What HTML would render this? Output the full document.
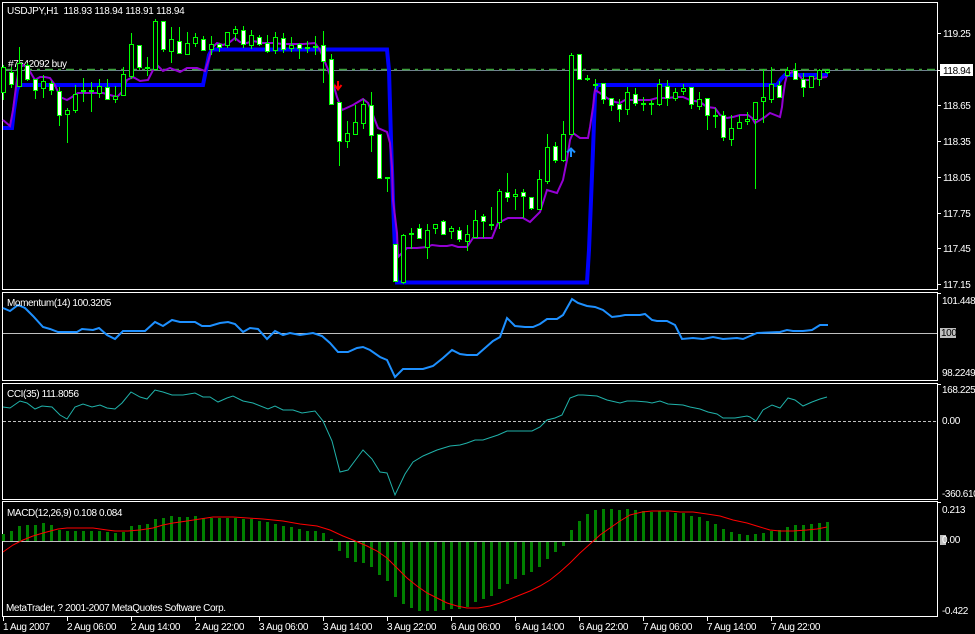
<!DOCTYPE html>
<html><head><meta charset="utf-8"><style>
html,body{margin:0;padding:0;background:#000;}
svg{display:block}
text{font-family:"Liberation Sans",sans-serif;font-size:10px;fill:#fff;letter-spacing:-0.4px}
</style></head><body>
<svg width="975" height="634" viewBox="0 0 975 634" xmlns="http://www.w3.org/2000/svg">
<rect x="0" y="0" width="975" height="634" fill="#000"/>

<!-- panel frames -->
<g fill="none" stroke="#fff" stroke-width="1" shape-rendering="crispEdges">
<rect x="2.5" y="2.5" width="935" height="287"/>
<rect x="2.5" y="292.5" width="935" height="88"/>
<rect x="2.5" y="383.5" width="935" height="116"/>
<rect x="2.5" y="501.5" width="935" height="115"/>
<path d="M938 33.5h3M938 105.5h3M938 141.5h3M938 177.5h3M938 213.5h3M938 248.5h3M938 284.5h3M938 70.5h3M938 293.5h3M938 384.5h3M938 502.5h3"/>
<path d="M3.5 617v4M67.5 617v4M131.5 617v4M195.5 617v4M259.5 617v4M323.5 617v4M387.5 617v4M451.5 617v4M515.5 617v4M579.5 617v4M643.5 617v4M707.5 617v4M771.5 617v4"/>
</g>

<text x="7" y="14" style="letter-spacing:-0.25px">USDJPY,H1&#160; 118.93 118.94 118.91 118.94</text>
<text x="8" y="67">#7542092 buy</text>

<line x1="3" y1="70.5" x2="937" y2="70.5" stroke="#708090" stroke-width="1" shape-rendering="crispEdges"/>
<line x1="3" y1="69.5" x2="937" y2="69.5" stroke="#3ca03c" stroke-width="1.5" stroke-dasharray="8,5,3,5"/>

<polyline fill="none" stroke="#0000ff" stroke-width="4" stroke-linejoin="miter" points="3,128 12,128 14,110 17,90 19,85 203,85 205,75 209,55 212,49.5 387,49.5 389,70 391,140 393,200 395,250 397,282.5 587,282.5 589,250 591,200 593,150 595,95 597,85 777,85 781,79 785,75 828,75"/>

<polyline fill="none" stroke="#9400d3" stroke-width="2" points="3,120 10,126 13,110 16,87 19,67 23,65 28,68 32,75 35,80 40,77 45,77 50,78 55,85 60,97 67,100 72,97 78,93 88,93 97,93 103,93 110,95 117,97 122,92 127,80 133,77 140,81 148,80 153,70 157,65 160,68 163,71 170,68 175,70 180,72 187,68 197,68 205,71 208,62 212,48 217,43 223,45 230,42 235,38 240,42 247,43 253,41 263,43 273,43 283,44 293,44 303,44 315,43 320,50 327,67 333,83 337,97 342,110 353,105 363,99 368,103 373,115 378,128 387,132 390,143 392,167 393,200 397,233 398,257 402,253 407,248 417,248 427,247 432,245 440,246 447,246 452,245 458,247 467,247 473,238 480,238 492,238 498,223 508,218 523,218 530,222 540,212 547,190 557,193 563,180 567,160 570,140 573,133 580,138 588,138 590,127 593,107 595,90 600,93 607,98 615,102 620,103 625,100 633,100 650,100 657,98 667,98 677,97 683,97 690,100 700,102 707,107 715,108 720,115 727,118 733,117 740,115 748,115 752,118 755,123 760,120 765,117 770,113 775,115 780,117 782,107 783,97 785,83 787,75 792,72 797,73 803,80 810,80 817,78 827,77"/>

<path fill="none" stroke="#00ff00" stroke-width="1" shape-rendering="crispEdges" d="M3.5 65V100M11.5 67V88M19.5 47V86M27.5 63V81M35.5 79V99M43.5 75V98M51.5 81V95M59.5 87V126M67.5 108V143M75.5 85V113M83.5 78V102M91.5 82V112M99.5 79V98M107.5 79V100M115.5 86V103M123.5 67V95M131.5 33V79M139.5 45V70M147.5 57V76M155.5 19V70M163.5 21V52M171.5 27V63M179.5 27V53M187.5 32V54M195.5 33V47M203.5 36V50M211.5 36V55M219.5 43V52M227.5 32V48M235.5 26V41M243.5 26V48M251.5 30V49M259.5 35V46M267.5 35V53M275.5 32V54M283.5 33V53M291.5 37V52M299.5 43V59M307.5 41V53M315.5 36V55M323.5 31V83M331.5 54V104M339.5 102V166M347.5 121V148M355.5 105V134M363.5 99V129M371.5 92V152M379.5 134V178M387.5 177V192M395.5 244V281M403.5 234V284M411.5 228V249M419.5 224V238M427.5 224V259M435.5 224V234M443.5 220V234M451.5 226V239M459.5 227V242M467.5 225V251M475.5 210V238M483.5 214V238M491.5 207V230M499.5 189V229M507.5 173V202M515.5 189V210M523.5 189V218M531.5 197V210M539.5 170V209M547.5 134V184M555.5 142V163M563.5 121V162M571.5 53V134M579.5 54V79M587.5 75V81M595.5 79V89M603.5 83V104M611.5 98V111M619.5 99V122M627.5 87V115M635.5 88V106M643.5 97V111M651.5 100V115M659.5 79V106M667.5 80V106M675.5 88V101M683.5 84V95M691.5 87V109M699.5 92V110M707.5 98V130M715.5 108V128M723.5 111V141M731.5 115V146M739.5 115V128M747.5 112V125M755.5 102V189M763.5 69V123M771.5 67V103M779.5 81V97M787.5 67V77M795.5 63V79M803.5 73V97M811.5 76V88M819.5 69V86M827.5 69V74"/>

<path fill="none" stroke="#00ff00" stroke-width="2" shape-rendering="crispEdges" d="M81 91h5M89 91h5M145 68h5M305 48h5M313 47h5M385 178h5M409 234h5M489 225h5M585 79h5M593 85h5M641 104h5M649 104h5M713 116h5"/>

<path fill="#fff" stroke="#00ff00" stroke-width="1" shape-rendering="crispEdges" d="M9.5 72.5h4V84.5h-4zM25.5 65.5h4V79.5h-4zM33.5 79.5h4V90.5h-4zM49.5 83.5h4V90.5h-4zM57.5 91.5h4V115.5h-4zM105.5 87.5h4V99.5h-4zM137.5 45.5h4V67.5h-4zM161.5 21.5h4V49.5h-4zM177.5 41.5h4V53.5h-4zM201.5 39.5h4V50.5h-4zM217.5 44.5h4V47.5h-4zM241.5 30.5h4V44.5h-4zM257.5 37.5h4V44.5h-4zM265.5 43.5h4V51.5h-4zM281.5 38.5h4V49.5h-4zM297.5 44.5h4V48.5h-4zM321.5 45.5h4V61.5h-4zM329.5 59.5h4V104.5h-4zM337.5 102.5h4V141.5h-4zM369.5 105.5h4V135.5h-4zM377.5 134.5h4V178.5h-4zM393.5 244.5h4V281.5h-4zM417.5 228.5h4V238.5h-4zM441.5 221.5h4V234.5h-4zM457.5 230.5h4V239.5h-4zM481.5 216.5h4V221.5h-4zM505.5 192.5h4V197.5h-4zM521.5 192.5h4V196.5h-4zM529.5 197.5h4V208.5h-4zM553.5 146.5h4V160.5h-4zM577.5 54.5h4V79.5h-4zM601.5 83.5h4V99.5h-4zM609.5 98.5h4V105.5h-4zM617.5 104.5h4V109.5h-4zM633.5 94.5h4V103.5h-4zM665.5 86.5h4V98.5h-4zM689.5 87.5h4V104.5h-4zM705.5 98.5h4V115.5h-4zM721.5 115.5h4V137.5h-4zM777.5 85.5h4V97.5h-4zM793.5 70.5h4V79.5h-4zM801.5 79.5h4V87.5h-4z"/>

<path fill="#000" stroke="#00ff00" stroke-width="1" shape-rendering="crispEdges" d="M1.5 67.5h4V92.5h-4zM17.5 63.5h4V86.5h-4zM41.5 81.5h4V88.5h-4zM65.5 110.5h4V114.5h-4zM73.5 94.5h4V110.5h-4zM97.5 86.5h4V93.5h-4zM113.5 96.5h4V99.5h-4zM121.5 74.5h4V95.5h-4zM129.5 44.5h4V76.5h-4zM153.5 21.5h4V69.5h-4zM169.5 39.5h4V51.5h-4zM185.5 43.5h4V54.5h-4zM193.5 37.5h4V43.5h-4zM209.5 44.5h4V49.5h-4zM225.5 32.5h4V45.5h-4zM233.5 29.5h4V33.5h-4zM249.5 35.5h4V45.5h-4zM273.5 37.5h4V50.5h-4zM289.5 45.5h4V48.5h-4zM345.5 133.5h4V141.5h-4zM353.5 122.5h4V134.5h-4zM361.5 104.5h4V123.5h-4zM401.5 235.5h4V282.5h-4zM425.5 230.5h4V247.5h-4zM433.5 224.5h4V228.5h-4zM449.5 228.5h4V231.5h-4zM465.5 234.5h4V241.5h-4zM473.5 220.5h4V237.5h-4zM497.5 191.5h4V222.5h-4zM513.5 194.5h4V196.5h-4zM537.5 179.5h4V209.5h-4zM545.5 147.5h4V181.5h-4zM561.5 134.5h4V160.5h-4zM569.5 55.5h4V134.5h-4zM625.5 92.5h4V109.5h-4zM657.5 84.5h4V104.5h-4zM673.5 92.5h4V98.5h-4zM681.5 88.5h4V91.5h-4zM697.5 99.5h4V106.5h-4zM729.5 128.5h4V139.5h-4zM737.5 122.5h4V128.5h-4zM745.5 119.5h4V121.5h-4zM753.5 102.5h4V119.5h-4zM761.5 97.5h4V101.5h-4zM769.5 84.5h4V99.5h-4zM785.5 70.5h4V75.5h-4zM809.5 76.5h4V87.5h-4zM817.5 70.5h4V79.5h-4zM825.5 70.5h4V72.5h-4z"/>

<path d="M338 81V89M334.5 85L338 89.5L341.5 85" fill="none" stroke="#ff0000" stroke-width="2"/>
<path d="M571 157V149M567 152.5L571 148.5L575 152.5" fill="none" stroke="#1e90ff" stroke-width="2"/>

<rect x="940" y="64" width="33" height="12" fill="#fff"/>
<text x="943" y="74" style="fill:#000">118.94</text>

<text x="943" y="37">119.25</text>
<text x="943" y="109">118.65</text>
<text x="943" y="145">118.35</text>
<text x="943" y="181">118.05</text>
<text x="943" y="217">117.75</text>
<text x="943" y="252">117.45</text>
<text x="943" y="288">117.15</text>

<line x1="3" y1="333.5" x2="937" y2="333.5" stroke="#c0c0c0" stroke-width="1" shape-rendering="crispEdges"/>
<polyline fill="none" stroke="#1e90ff" stroke-width="2" points="3,308 10,311 18,305 25,308 33,316 43,327 50,329 58,332 77,332 82,329 93,330 99,328 107,335 115,339 123,331 145,331 155,322 163,326 172,320 180,322 195,322 202,326 210,326 220,323 228,322 235,324 243,332 250,328 258,329 267,339 275,331 283,335 290,333 300,335 313,333 322,336 330,343 338,352 348,352 357,348 363,347 370,350 380,357 387,360 395,377 403,369 423,369 433,366 443,358 452,350 460,354 467,355 477,355 485,348 493,341 500,337 507,318 515,326 525,327 533,327 540,324 547,319 557,319 563,315 572,299 578,303 587,306 595,307 603,310 612,317 620,316 625,315 640,315 645,314 652,320 657,321 667,321 675,325 682,339 693,338 703,339 713,337 723,339 737,338 743,339 750,336 757,333 780,332 787,330 793,331 803,331 812,330 820,325 828,325"/>
<text x="7" y="306">Momentum(14) 100.3205</text>
<text x="942" y="304">101.4487</text>
<rect x="940" y="328" width="16" height="10" fill="#c0c0c0"/>
<text x="941" y="336" style="fill:#000">100</text>
<text x="942" y="376">98.2249</text>

<line x1="3" y1="421.5" x2="937" y2="421.5" stroke="#c0c0c0" stroke-width="1" stroke-dasharray="3,2" shape-rendering="crispEdges"/>
<polyline fill="none" stroke="#20b2aa" stroke-width="1" points="3,407 10,408 20,401 27,403 35,409 42,406 52,407 60,415 67,419 75,407 83,404 92,407 100,405 107,408 115,409 122,403 131,392 140,397 147,399 155,390 163,392 172,395 183,395 195,393 203,397 210,397 218,402 227,398 233,396 243,401 253,403 268,409 275,406 283,410 293,410 302,413 315,411 323,421 332,441 340,472 348,470 357,458 363,450 372,459 380,472 387,473 395,495 405,474 413,462 423,456 437,450 450,446 460,445 467,443 475,440 483,440 492,437 498,435 507,431 513,431 532,431 540,427 547,420 555,418 562,415 570,398 578,395 583,395 597,396 607,400 620,403 627,401 635,401 647,402 652,403 660,401 668,404 683,405 690,407 700,409 708,412 717,414 723,418 735,418 747,416 750,417 756,421 763,410 772,405 780,408 788,398 795,400 803,406 812,402 820,399 827,397"/>
<text x="7" y="397">CCI(35) 111.8056</text>
<text x="942" y="393">168.2257</text>
<text x="942" y="424">0.00</text>
<text x="942" y="497">-360.610</text>

<path fill="#008000" shape-rendering="crispEdges" d="M2 534h3V541h-3zM10 531h3V541h-3zM18 526h3V541h-3zM26 525h3V541h-3zM34 525h3V541h-3zM42 523h3V541h-3zM50 525h3V541h-3zM58 530h3V541h-3zM66 531h3V541h-3zM74 531h3V541h-3zM82 531h3V541h-3zM90 531h3V541h-3zM98 531h3V541h-3zM106 532h3V541h-3zM114 533h3V541h-3zM122 532h3V541h-3zM130 526h3V541h-3zM138 525h3V541h-3zM146 524h3V541h-3zM154 519h3V541h-3zM162 518h3V541h-3zM170 516h3V541h-3zM178 517h3V541h-3zM186 517h3V541h-3zM194 516h3V541h-3zM202 518h3V541h-3zM210 518h3V541h-3zM218 518h3V541h-3zM226 518h3V541h-3zM234 518h3V541h-3zM242 519h3V541h-3zM250 519h3V541h-3zM258 521h3V541h-3zM266 522h3V541h-3zM274 524h3V541h-3zM282 526h3V541h-3zM290 527h3V541h-3zM298 529h3V541h-3zM306 531h3V541h-3zM314 531h3V541h-3zM322 533h3V541h-3zM330 539h3V541h-3zM338 542h3V551h-3zM346 542h3V558h-3zM354 542h3V562h-3zM362 542h3V563h-3zM370 542h3V567h-3zM378 542h3V575h-3zM386 542h3V581h-3zM394 542h3V597h-3zM402 542h3V604h-3zM410 542h3V608h-3zM418 542h3V611h-3zM426 542h3V611h-3zM434 542h3V611h-3zM442 542h3V610h-3zM450 542h3V609h-3zM458 542h3V609h-3zM466 542h3V607h-3zM474 542h3V602h-3zM482 542h3V599h-3zM490 542h3V596h-3zM498 542h3V589h-3zM506 542h3V584h-3zM514 542h3V579h-3zM522 542h3V575h-3zM530 542h3V572h-3zM538 542h3V567h-3zM546 542h3V559h-3zM554 542h3V552h-3zM562 542h3V546h-3zM570 530h3V541h-3zM578 521h3V541h-3zM586 514h3V541h-3zM594 510h3V541h-3zM602 509h3V541h-3zM610 509h3V541h-3zM618 510h3V541h-3zM626 509h3V541h-3zM634 510h3V541h-3zM642 511h3V541h-3zM650 512h3V541h-3zM658 511h3V541h-3zM666 512h3V541h-3zM674 513h3V541h-3zM682 513h3V541h-3zM690 516h3V541h-3zM698 517h3V541h-3zM706 521h3V541h-3zM714 524h3V541h-3zM722 529h3V541h-3zM730 532h3V541h-3zM738 534h3V541h-3zM746 535h3V541h-3zM754 534h3V541h-3zM762 533h3V541h-3zM770 531h3V541h-3zM778 530h3V541h-3zM786 527h3V541h-3zM794 525h3V541h-3zM802 525h3V541h-3zM810 524h3V541h-3zM818 523h3V541h-3zM826 522h3V541h-3z"/>
<line x1="3" y1="541.5" x2="937" y2="541.5" stroke="#c0c0c0" stroke-width="1" shape-rendering="crispEdges"/>
<polyline fill="none" stroke="#ff0000" stroke-width="1" points="3,552 13,545 23,540 33,536 43,533 58,529 67,528 93,528 107,530 115,531 128,531 140,530 153,528 163,525 173,523 187,521 200,519 213,517 233,517 263,519 283,521 300,524 317,526 330,530 343,536 353,540 367,546 377,551 387,558 397,568 407,578 417,586 427,593 437,598 447,603 457,606 467,608 478,608 490,606 500,603 510,599 520,595 530,591 540,586 550,580 560,572 570,563 580,553 590,544 600,535 610,528 620,521 630,515 642,512 652,511 670,511 680,512 693,512 707,514 720,516 733,520 747,523 760,527 770,530 780,531 793,531 807,530 817,529 827,527"/>
<text x="7" y="516">MACD(12,26,9) 0.108 0.084</text>
<text x="6" y="611">MetaTrader, ? 2001-2007 MetaQuotes Software Corp.</text>
<text x="942" y="513">0.213</text>
<rect x="940" y="535" width="6" height="10" fill="#c0c0c0"/>
<text x="942" y="543">0.00</text>
<text x="942" y="614">-0.422</text>

<text x="3" y="630">1 Aug 2007</text>
<text x="67" y="630">2 Aug 06:00</text>
<text x="131" y="630">2 Aug 14:00</text>
<text x="195" y="630">2 Aug 22:00</text>
<text x="259" y="630">3 Aug 06:00</text>
<text x="323" y="630">3 Aug 14:00</text>
<text x="387" y="630">3 Aug 22:00</text>
<text x="451" y="630">6 Aug 06:00</text>
<text x="515" y="630">6 Aug 14:00</text>
<text x="579" y="630">6 Aug 22:00</text>
<text x="643" y="630">7 Aug 06:00</text>
<text x="707" y="630">7 Aug 14:00</text>
<text x="771" y="630">7 Aug 22:00</text>
</svg>
</body></html>
